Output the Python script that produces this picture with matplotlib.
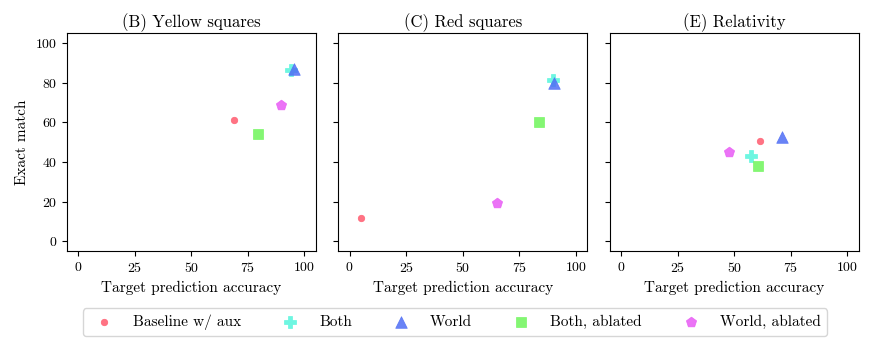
import matplotlib
matplotlib.use("Agg")
import matplotlib.pyplot as plt

plt.rcParams['font.family'] = 'serif'
plt.rcParams['font.serif'] = ['cmr10', 'DejaVu Serif']
plt.rcParams['axes.formatter.use_mathtext'] = True
plt.rcParams['mathtext.fontset'] = 'cm'

titles = ["(B) Yellow squares", "(C) Red squares", "(E) Relativity"]
models = ["Baseline w/ aux", "Both", "World", "Both, ablated", "World, ablated"]

# target prediction accuracy, per panel, per model
acc_yellow = [69.0, 94.0, 95.5, 79.5, 89.5]
acc_red = [5.0, 89.8, 90.2, 83.8, 65.2]
acc_rel = [61.5, 57.6, 71.2, 60.6, 47.7]

# exact match, per panel, per model
em_yellow = [61.2, 86.5, 87.0, 54.3, 68.6]
em_red = [11.6, 81.2, 79.6, 60.0, 19.3]
em_rel = [50.6, 43.2, 52.6, 38.0, 44.9]

accs = [acc_yellow, acc_red, acc_rel]
ems = [em_yellow, em_red, em_rel]

colors = ['#ff5a6e', '#55f5dc', '#4f6df5', '#6ef55a', '#e85af5']
markers = ['o', 'P', '^', 's', 'p']
sizes = [22, 65, 70, 60, 60]

fig, axes = plt.subplots(1, 3, figsize=(8.71, 3.48), dpi=100, sharey=True)
fig.subplots_adjust(left=0.0766, right=0.986, top=0.905, bottom=0.278, wspace=0.09)

for k, ax in enumerate(axes):
    for i in range(len(models)):
        ax.scatter(accs[k][i], ems[k][i], color=colors[i], marker=markers[i],
                   s=sizes[i], alpha=0.85, linewidths=0.5, edgecolors=colors[i],
                   label=models[i])
    ax.set_xlim(-5, 105)
    ax.set_ylim(-5, 105)
    ax.set_xticks([0, 25, 50, 75, 100])
    ax.set_yticks([0, 20, 40, 60, 80, 100])
    ax.tick_params(labelsize=10)
    ax.set_title(titles[k], fontsize=12, pad=4)
    ax.set_xlabel("Target prediction accuracy", fontsize=11)

axes[0].set_ylabel("Exact match", fontsize=11)

handles, labels = axes[0].get_legend_handles_labels()
fig.legend(handles, labels, loc='lower center', ncol=5, fontsize=11,
           bbox_to_anchor=(0.522, 0.012), columnspacing=2.2, handletextpad=0.9,
           frameon=True, edgecolor='#cccccc', fancybox=True)

plt.savefig("out.png", dpi=100)
